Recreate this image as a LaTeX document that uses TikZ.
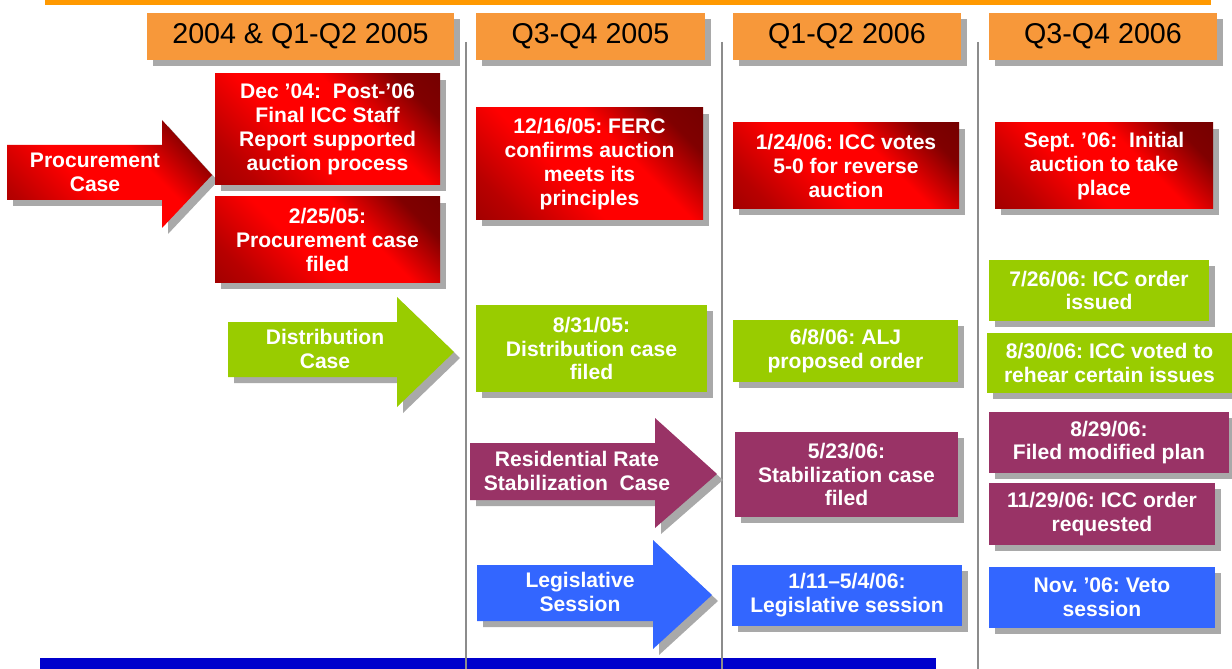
\documentclass[tikz,border=0pt]{standalone}
\usepackage{fontspec}
\setmainfont{Liberation Sans}
\usetikzlibrary{shadows}
\definecolor{hdr}{HTML}{F7983A}
\definecolor{topbar}{HTML}{FF9900}
\definecolor{grn}{HTML}{99CC00}
\definecolor{mar}{HTML}{993366}
\definecolor{blu}{HTML}{3366FF}
\definecolor{navybar}{HTML}{0000CC}
\definecolor{dred}{HTML}{800000}
\definecolor{mred}{HTML}{B80000}
\definecolor{ddred}{HTML}{660000}
\definecolor{shd}{HTML}{A9A9A9}
\definecolor{vline}{HTML}{8C8C8C}
\pgfdeclarehorizontalshading{redsaddle}{100bp}{color(0bp)=(dred); color(24bp)=(mred); color(42bp)=(red); color(60bp)=(red); color(76bp)=(dred); color(100bp)=(ddred)}
\newcommand\tbox[7]{\node[#2, minimum width={(#5-#3)*0.02cm}, minimum height={(#6-#4)*0.02cm}] (#1) at ({(#3+#5)/2},{(#4+#6)/2}) {#7};}
\newcommand\blockarrow[9]{%
  \fill[shd, shift={(6,6)}] (#2,#5) -- (#3,#5) -- (#3,#7) -- (#4,#9) -- (#3,#8) -- (#3,#6) -- (#2,#6) -- cycle;
  \path[#1] (#2,#5) -- (#3,#5) -- (#3,#7) -- (#4,#9) -- (#3,#8) -- (#3,#6) -- (#2,#6) -- cycle;}
\tikzset{
  shadowed/.style={drop shadow={shadow xshift=0.12cm, shadow yshift=-0.12cm, fill=shd, opacity=1}},
  evbox/.style={inner sep=0pt, align=center, text=white, shadowed,
    font=\frenchspacing\bfseries\fontsize{12}{13.6}\selectfont},
  redbox/.style={evbox, shading=redsaddle, shading angle=45},
  grnbox/.style={evbox, fill=grn},
  marbox/.style={evbox, fill=mar},
  blubox/.style={evbox, fill=blu},
  hdrbox/.style={inner sep=0pt, fill=hdr, shadowed, text=black,
    font=\fontsize{16.3}{18}\selectfont},
  arrtext/.style={inner sep=0pt, align=center, text=white,
    font=\frenchspacing\bfseries\fontsize{12}{13.6}\selectfont},
  vsep/.style={draw=vline, line width=0.03cm}
}
\begin{document}
\begin{tikzpicture}[x=0.02cm, y=-0.02cm]
\useasboundingbox (0,0) rectangle (1232,669);
% bars
\fill[topbar] (45,0) rectangle (1211,5);
\fill[navybar] (40,658) rectangle (936,669);
% separators
\coordinate (s1t) at (466,42); \coordinate (s1b) at (466,669);
\coordinate (s2t) at (722,42); \coordinate (s2b) at (722,669);
\coordinate (s3t) at (978,42); \coordinate (s3b) at (978,669);
\draw[vsep] (s1t) -- (s1b);
\draw[vsep] (s2t) -- (s2b);
\draw[vsep] (s3t) -- (s3b);
% headers
\tbox{h1}{hdrbox}{147}{13}{454}{60}{2004 \& Q1-Q2 2005}
\tbox{h2}{hdrbox}{476}{13}{705}{60}{Q3-Q4 2005}
\tbox{h3}{hdrbox}{733}{13}{961}{60}{Q1-Q2 2006}
\tbox{h4}{hdrbox}{989}{13}{1217}{60}{Q3-Q4 2006}
% block arrows: style, tail, neck, tip, body top, body bottom, head top, head bottom, tip y
\blockarrow{shading=redsaddle, shading angle=45}{7}{162}{212}{145}{200}{120}{228}{175}
\node[arrtext] (procT) at (95,172) {Procurement\\Case};
\blockarrow{fill=grn}{228}{397}{454}{322}{377}{297}{407}{352}
\node[arrtext] (distT) at (325,349) {Distribution\\Case};
\blockarrow{fill=mar}{470}{655}{717}{443}{500}{418}{528}{474}
\node[arrtext] (resT) at (577,471) {Residential Rate\\Stabilization\ \ Case};
\blockarrow{fill=blu}{477}{653}{712}{565}{621}{540}{649}{595}
\node[arrtext] (legT) at (580,592) {Legislative\\Session};
% red boxes
\tbox{r1}{redbox}{215}{74}{440}{185}{Dec ’04:\ \ Post-’06\\Final ICC Staff\\Report supported\\auction process}
\tbox{r2}{redbox}{215}{197}{440}{283}{2/25/05:\\Procurement case\\filed}
\tbox{r3}{redbox}{476}{108}{703}{220}{12/16/05: FERC\\confirms auction\\meets its\\principles}
\tbox{r4}{redbox}{733}{123}{959}{209}{1/24/06: ICC votes\\5-0 for reverse\\auction}
\tbox{r5}{redbox}{995}{123}{1213}{209}{Sept. ’06:\ \ Initial\\auction to take\\place}
% green boxes
\tbox{g1}{grnbox}{476}{305}{707}{392}{8/31/05:\\Distribution case\\filed}
\tbox{g2}{grnbox}{733}{320}{958}{382}{6/8/06: ALJ\\proposed order}
\tbox{g3}{grnbox}{989}{260}{1209}{321}{7/26/06: ICC order\\issued}
\tbox{g4}{grnbox}{987}{333}{1232}{393}{8/30/06: ICC voted to\\rehear certain issues}
% maroon boxes
\tbox{m1}{marbox}{735}{432}{958}{517}{5/23/06:\\Stabilization case\\filed}
\tbox{m2}{marbox}{989}{412}{1229}{473}{8/29/06:\\Filed modified plan}
\tbox{m3}{marbox}{989}{483}{1215}{545}{11/29/06: ICC order\\requested}
% blue boxes
\tbox{b1}{blubox}{732}{565}{962}{626}{1/11–5/4/06:\\Legislative session}
\tbox{b2}{blubox}{989}{567}{1215}{628}{Nov. ’06: Veto\\session}
\end{tikzpicture}
\end{document}
